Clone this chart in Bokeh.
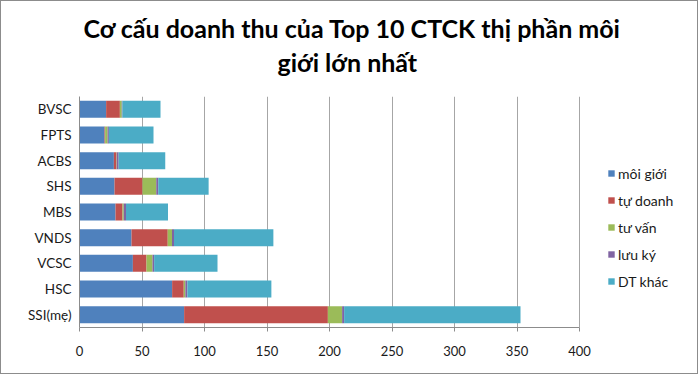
from bokeh.plotting import figure
from bokeh.models import ColumnDataSource, Legend, FactorRange, FixedTicker, Title
from bokeh.embed import file_html
from bokeh.resources import INLINE

# ---- data ----
companies = ["SSI(mẹ)", "HSC", "VCSC", "VNDS", "MBS", "SHS", "ACBS", "FPTS", "BVSC"]
moi_gioi = [83.7, 74.1, 42.7, 41.6, 28.8, 28.0, 27.5, 20.0, 21.3]
tu_doanh = [115.0, 9.3, 10.9, 29.0, 5.6, 22.4, 2.0, 0.5, 11.0]
tu_van   = [11.4, 1.3, 4.8, 3.4, 1.0, 11.0, 0.3, 2.0, 1.5]
luu_ky   = [1.6, 1.6, 1.3, 1.6, 1.8, 1.6, 1.5, 1.0, 0.5]
dt_khac  = [141.1, 67.2, 50.7, 79.5, 33.6, 40.3, 37.3, 35.7, 30.5]
series_names = ["môi giới", "tự doanh", "tư vấn", "lưu ký", "DT khác"]
x_ticks = [0, 50, 100, 150, 200, 250, 300, 350, 400]
title_line1 = "Cơ cấu doanh thu của Top 10 CTCK thị phần môi"
title_line2 = "giới lớn nhất"

colors = ["#4F81BD", "#C0504D", "#9BBB59", "#8064A2", "#4BACC6"]
keys = ["moi_gioi", "tu_doanh", "tu_van", "luu_ky", "dt_khac"]

source = ColumnDataSource(dict(company=companies, moi_gioi=moi_gioi, tu_doanh=tu_doanh,
                               tu_van=tu_van, luu_ky=luu_ky, dt_khac=dt_khac))

FONT = "Lato"
TXT = "#1a1a1a"

# frame spans 79..690 px; value axis 0..400 covers 79..579 px (1.25 px per unit),
# the extra room on the right holds the legend
X_END = 400 + (690 - 579) / 1.25

p = figure(width=698, height=374, output_backend="svg", toolbar_location=None,
           y_range=FactorRange(*companies, range_padding=0), x_range=(0, X_END),
           min_border_left=78, min_border_right=9, min_border_top=95, min_border_bottom=48,
           styles={"border": "1px solid #8c8c8c"})
p.outline_line_color = None
p.background_fill_color = "white"
p.border_fill_color = "white"

renderers = p.hbar_stack(keys, y="company", height=0.66, color=colors, source=source,
                         line_color=None)

# axes
p.xaxis.ticker = FixedTicker(ticks=x_ticks)
p.xaxis.bounds = (0, 400)
p.xaxis.axis_line_color = "#8c8c8c"
p.xaxis.major_tick_line_color = "#8c8c8c"
p.xaxis.major_tick_in = 0
p.xaxis.major_tick_out = 4
p.xaxis.minor_tick_line_color = None
p.xaxis.major_label_text_font = FONT
p.xaxis.major_label_text_font_size = "13px"
p.xaxis.major_label_text_color = TXT
p.xaxis.major_label_standoff = 14

p.yaxis.axis_line_color = "#8c8c8c"
p.yaxis.major_tick_line_color = None
p.yaxis.minor_tick_line_color = None
p.yaxis.major_label_text_font = FONT
p.yaxis.major_label_text_font_size = "13.5px"
p.yaxis.major_label_text_color = TXT
p.yaxis.major_label_standoff = 2

p.xgrid.grid_line_color = "#a6a6a6"
p.xgrid.grid_line_width = 1
p.ygrid.grid_line_color = None

# legend
legend = Legend(items=[(name, [r]) for name, r in zip(series_names, renderers)],
                location=(528, 36), orientation="vertical")
legend.glyph_width = 8
legend.glyph_height = 8
legend.label_standoff = 3
legend.label_height = 20
legend.spacing = 7
legend.padding = 0
legend.margin = 0
legend.border_line_color = None
legend.background_fill_alpha = 0
legend.label_text_font = FONT
legend.label_text_font_size = "14px"
legend.label_text_color = TXT
p.add_layout(legend, "center")

# title as two lines centred near x=349 (second line added first: it sits nearest the frame)
p.add_layout(Title(text=title_line2, align="left", offset=198, standoff=40,
                   text_font=FONT, text_font_style="bold", text_font_size="25px",
                   text_color="#000000"), "above")
p.add_layout(Title(text=title_line1, align="left", offset=4, standoff=-36,
                   text_font=FONT, text_font_style="bold", text_font_size="25px",
                   text_color="#000000"), "above")

open("out.html", "w").write(file_html(p, INLINE))
